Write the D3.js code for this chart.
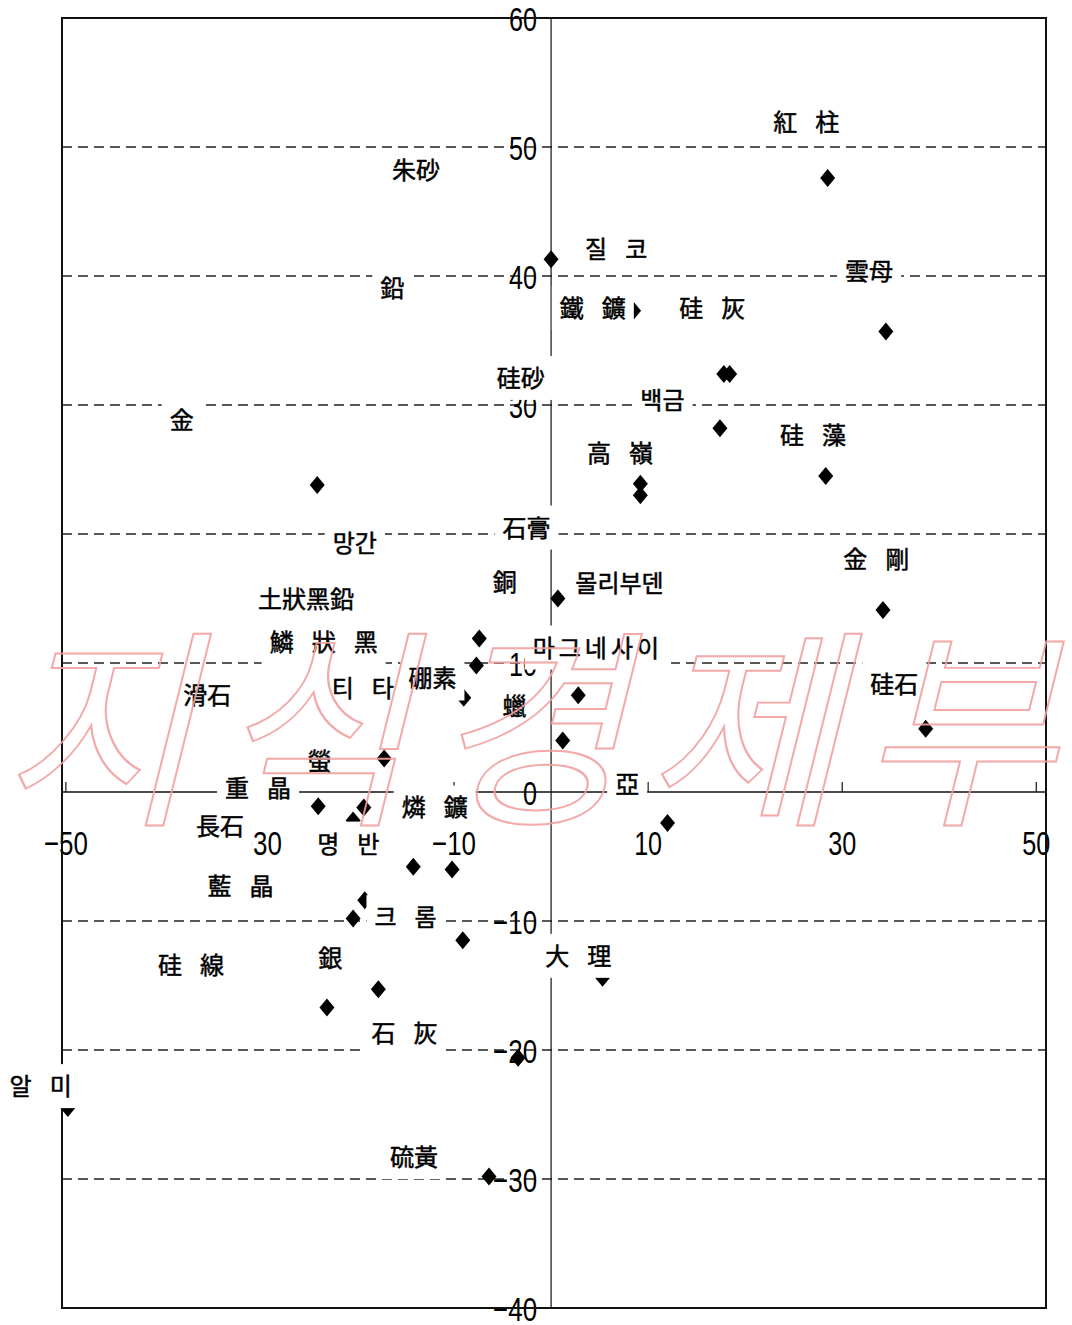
<!DOCTYPE html>
<html>
<head>
<meta charset="utf-8">
<script src="https://cdn.jsdelivr.net/npm/d3@7"></script>
<style>
  body { margin: 0; background: #fff; }
</style>
</head>
<body>
<svg id="chart" width="1072" height="1325"></svg>
<script>
// ticks
const xTicks = [-50, -30, -10, 10, 30, 50];
const yTicks = [60, 50, 40, 30, 20, 10, 0, -10, -20, -30, -40];
const gridValues = [50, 40, 30, 20, 10, -10, -20, -30];

// diamond markers
const pointX = [28.5, 0.0, 34.5, 17.8, 18.4, 8.5, 17.4, 28.3, 9.2, 9.2,
                -24.1, 0.7, 34.2, -7.4, -7.7, -9.0, 2.8, 1.2, 38.6, -17.2,
                -24.0, -19.3, -20.4, 12.0, -14.2, -10.2, -19.2, -20.4, -9.1, 5.3,
                -17.8, -23.1, -3.4, -49.8, -6.4];
const pointY = [47.6, 41.3, 35.7, 32.4, 32.4, 37.3, 28.2, 24.5, 23.9, 23.0,
                23.8, 15.0, 14.1, 11.9, 9.8, 7.3, 7.5, 4.0, 4.9, 2.6,
                -1.1, -1.2, -2.2, -2.4, -5.8, -6.0, -8.4, -9.8, -11.5, -14.4,
                -15.3, -16.7, -20.6, -24.5, -29.8];

// mineral names, placed by left edge / vertical centre in data units
const labelNames = ["紅 柱", "朱砂", "질 코", "雲母", "鉛", "鐵 鑛", "硅 灰", "硅砂", "백금", "金",
                    "硅 藻", "高 嶺", "石膏", "망간", "金 剛", "銅", "몰리부덴", "土狀黑鉛", "鱗 狀 黑", "마그네사이",
                    "硼素", "티 타", "滑石", "硅石", "蠟", "螢", "重 晶", "亞", "燐 鑛", "長石",
                    "명 반", "藍 晶", "크 롬", "硅 線", "銀", "大 理", "石 灰", "알 미", "硫黃"];
const labelX = [22.9, -16.4, 3.5, 30.3, -17.6, 0.9, 13.2, -5.6, 9.2, -39.3,
                23.6, 3.7, -5.0, -22.5, 30.1, -6.0, 2.5, -30.2, -29.0, -1.9,
                -14.7, -22.6, -37.9, 32.9, -5.0, -25.1, -33.6, 6.6, -15.4, -36.6,
                -24.1, -35.4, -18.2, -40.5, -24.0, -0.6, -18.5, -55.8, -16.6];
const labelY = [51.9, 48.2, 42.1, 40.4, 39.1, 37.5, 37.5, 32.1, 30.4, 28.8,
                27.7, 26.3, 20.5, 19.3, 18.1, 16.3, 16.2, 15.0, 11.6, 11.2,
                8.8, 8.1, 7.5, 8.4, 6.7, 2.4, 0.3, 0.6, -1.2, -2.6,
                -4.0, -7.3, -9.7, -13.4, -12.9, -12.7, -18.7, -22.8, -28.3];

const svg = d3.select("#chart");
const x = d3.scaleLinear().domain([-50.4, 51.0]).range([62, 1046]);
const y = d3.scaleLinear().domain([-40, 60]).range([1308, 18]);

const LABEL_FONT = "'Noto Sans CJK KR', 'Noto Sans CJK SC', sans-serif";
const NUM_FONT = "'Liberation Sans', Arial, sans-serif";

// dashed grid
svg.append("g").selectAll("line")
    .data(gridValues)
    .join("line")
    .attr("x1", x.range()[0]).attr("x2", x.range()[1])
    .attr("y1", d => y(d)).attr("y2", d => y(d))
    .attr("stroke", "#222")
    .attr("stroke-width", 1.3)
    .attr("stroke-dasharray", "10,6");

// axes through origin
svg.append("line")
    .attr("x1", x(0)).attr("x2", x(0))
    .attr("y1", y.range()[1]).attr("y2", y.range()[0])
    .attr("stroke", "#111").attr("stroke-width", 1.2);
svg.append("line")
    .attr("x1", x.range()[0]).attr("x2", x.range()[1])
    .attr("y1", y(0)).attr("y2", y(0))
    .attr("stroke", "#111").attr("stroke-width", 1.6);

svg.append("g").selectAll("line")
    .data(xTicks)
    .join("line")
    .attr("x1", d => x(d)).attr("x2", d => x(d))
    .attr("y1", y(0)).attr("y2", y(0) - 10)
    .attr("stroke", "#111").attr("stroke-width", 1.2);

// condensed numbers like the scanned original
function numLabel(g, v, cx, anchorEnd, baseline) {
    const s = v < 0 ? "\u2212" + Math.abs(v) : String(v);
    const len = String(Math.abs(v)).length * 14 + (v < 0 ? 16 : 0);
    const sx = anchorEnd ? cx - len : cx - len / 2;
    g.append("text")
        .attr("x", sx).attr("y", baseline)
        .attr("textLength", len)
        .attr("lengthAdjust", "spacingAndGlyphs")
        .style("font-family", NUM_FONT)
        .style("font-size", "34px")
        .style("fill", "#000")
        .text(s);
}

const tickG = svg.append("g");
yTicks.forEach(v => numLabel(tickG, v, x(0) - 14, true, y(v) + 12.5));
xTicks.forEach(v => numLabel(tickG, v, x(v), false, 855));

// plot frame
svg.append("rect")
    .attr("x", x.range()[0]).attr("y", y.range()[1])
    .attr("width", x.range()[1] - x.range()[0])
    .attr("height", y.range()[0] - y.range()[1])
    .attr("fill", "none")
    .attr("stroke", "#111")
    .attr("stroke-width", 2);

// markers
svg.append("g").selectAll("path")
    .data(pointX.map((d, i) => [d, pointY[i]]))
    .join("path")
    .attr("d", "M0,-9L7.5,0L0,9L-7.5,0Z")
    .attr("transform", d => `translate(${x(d[0])},${y(d[1])})`)
    .attr("fill", "#000");

// labels with white boxes (they cut the lines and markers under them)
const labelG = svg.append("g");
labelNames.forEach((name, i) => {
    const lx = x(labelX[i]);
    const cy = y(labelY[i]);
    const g = labelG.append("g");
    const rect = g.append("rect").attr("fill", "#fff");
    const t = g.append("text")
        .attr("x", lx).attr("y", cy + 9)
        .style("font-family", LABEL_FONT)
        .style("font-size", "24px")
        .style("letter-spacing", name.replace(/ /g, "").length > 4 ? "4px" : null)
        .style("fill", "#000")
        .style("stroke", "#000")
        .style("stroke-width", 0.5);
    name.split(" ").forEach((part, k) => {
        t.append("tspan").attr("dx", k === 0 ? 0 : 18).text(part);
    });
    const w = t.node().getBBox().width;
    rect.attr("x", lx - 8).attr("y", cy - 22)
        .attr("width", w + 16).attr("height", 44);
});

// watermark
svg.append("g")
    .attr("transform", "translate(0,809) skewX(-14)")
    .append("text")
    .attr("x", 0).attr("y", 0)
    .style("font-family", LABEL_FONT)
    .style("font-size", "212px")
    .style("letter-spacing", "20px")
    .style("fill", "none")
    .style("stroke", "#f2a0a0")
    .style("stroke-width", 2)
    .style("opacity", 0.9)
    .text("지식경제부");
</script>
</body>
</html>
